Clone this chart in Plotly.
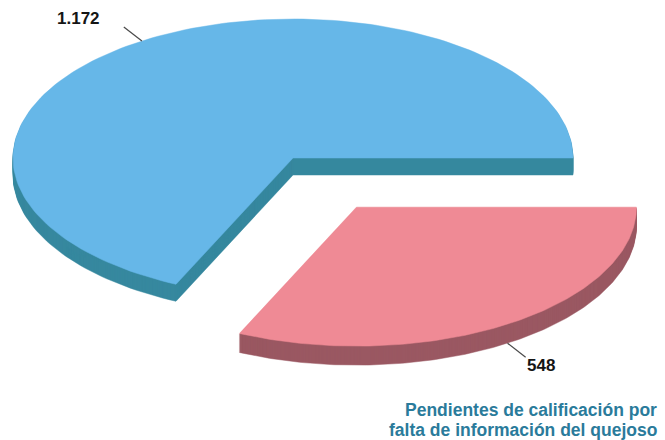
import numpy as np
import plotly.graph_objects as go

# ---- data ----
labels = ["Calificadas", "Pendientes de calificación por falta de información del quejoso"]
values = [1172, 548]
value_text = ["1.172", "548"]
legend_lines = ["Pendientes de calificación por", "falta de información del quejoso"]
top_colors = ["#66B7E8", "#EF8A95"]
side_colors = ["#37889F", "#9A5862"]
explode = [0.0, 0.42]

# ---- geometry / style (pixel canvas) ----
W, H = 665, 440
cx, cy = 293, 158
rx, ry = 280, 139
depths = [17, 19]

total = sum(values)
spans = [v / total * 360 for v in values]
slices = [(0.0, spans[0]), (-spans[1], 0.0)]


def pt(a_deg, k=1.0, ox=0.0, oy=0.0):
    a = np.radians(a_deg)
    return ox + cx + k * rx * np.cos(a), oy + cy - k * ry * np.sin(a)


fig = go.Figure()
for i, (a0, a1) in enumerate(slices):
    mid = (a0 + a1) / 2
    ox = explode[i] * rx * np.cos(np.radians(mid))
    oy = -explode[i] * ry * np.sin(np.radians(mid))
    angs = np.linspace(a0, a1, 160)
    px = [cx + ox] + [pt(a, 1, ox, oy)[0] for a in angs] + [cx + ox]
    py = [cy + oy] + [pt(a, 1, ox, oy)[1] for a in angs] + [cy + oy]
    depth = depths[i]
    # side (extrusion): stacked copies of the face
    for dd in np.arange(depth, 0, -1.0):
        fig.add_trace(go.Scatter(x=px, y=[y + dd for y in py], mode="lines", fill="toself",
                                 fillcolor=side_colors[i], line=dict(width=0.5, color=side_colors[i]),
                                 hoverinfo="skip", showlegend=False))
    fig.add_trace(go.Scatter(x=px, y=py, mode="lines", fill="toself",
                             fillcolor=top_colors[i], line=dict(width=0.5, color=top_colors[i]),
                             name=labels[i], showlegend=False))
    d = depth if i == 1 else 0
    x0, y0 = pt(mid, 1.0, ox, oy + d)
    x1, y1 = pt(mid, 1.12, ox, oy + d)
    fig.add_trace(go.Scatter(x=[x0, x1], y=[y0, y1], mode="lines",
                             line=dict(color="#4A4A4A", width=1.2),
                             hoverinfo="skip", showlegend=False))
    if i == 0:
        fig.add_annotation(x=x1 - 22, y=y1 - 8, text="<b>" + value_text[i] + "</b>",
                           xanchor="right", yanchor="middle", showarrow=False,
                           font=dict(family="Liberation Sans, Arial", size=17, color="#151515"))
    else:
        fig.add_annotation(x=x1 - 1, y=y1 + 8, text="<b>" + value_text[i] + "</b>",
                           xanchor="left", yanchor="middle", showarrow=False,
                           font=dict(family="Liberation Sans, Arial", size=17, color="#151515"))

for k, line in enumerate(legend_lines):
    fig.add_annotation(x=659, y=410 + 20 * k, text="<b>" + line + "</b>",
                       xanchor="right", yanchor="middle", align="right", showarrow=False,
                       font=dict(family="Liberation Sans, Arial", size=17.5, color="#2A7B9B"))

fig.update_layout(
    width=W, height=H, margin=dict(l=0, r=0, t=0, b=0),
    paper_bgcolor="white", plot_bgcolor="white",
    xaxis=dict(range=[0, W], visible=False, fixedrange=True),
    yaxis=dict(range=[H, 0], visible=False, fixedrange=True),
)
fig.write_html("out.html", config={"displayModeBar": False},
               post_script="document.body.style.margin='0';document.body.style.overflow='hidden';")
